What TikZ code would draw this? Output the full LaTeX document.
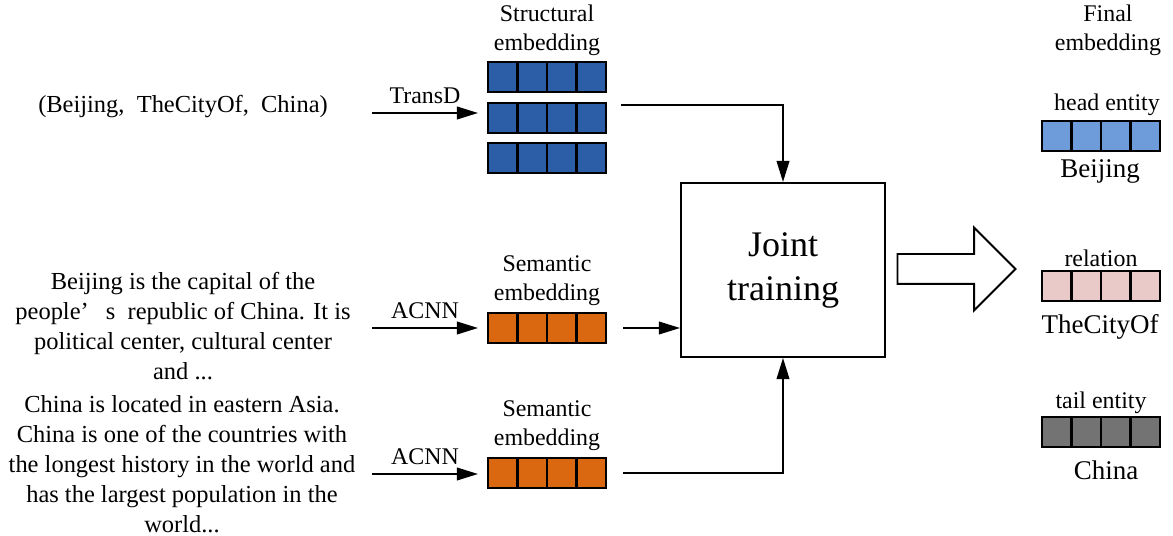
\documentclass[tikz,border=0pt]{standalone}
\usepackage{fontspec}
\setmainfont{Liberation Serif}
\usepackage{tikz}
\usetikzlibrary{arrows.meta,calc,shapes.arrows}

\definecolor{structblue}{RGB}{43,94,167}
\definecolor{semorange}{RGB}{218,104,16}
\definecolor{headblue}{RGB}{110,156,219}
\definecolor{relpink}{RGB}{233,202,201}
\definecolor{tailgray}{RGB}{115,115,115}

\tikzset{
  emb/.style={draw, line width=1.6pt, minimum width=2.95cm, minimum height=0.74cm, inner sep=0pt,
    path picture={\foreach \k in {1,2,3}
      \draw[line width=1.6pt] ($(path picture bounding box.north west)!\k/4!(path picture bounding box.north east)$)
        -- ($(path picture bounding box.south west)!\k/4!(path picture bounding box.south east)$);}},
  link/.style={-{Triangle[length=15pt,width=9pt]}, line width=1.3pt},
  txt/.style={align=center, inner sep=0pt, font=\fontsize{17.4}{21.4}\selectfont},
  lbl/.style={align=center, inner sep=0pt, font=\fontsize{17}{20.6}\selectfont},
  entname/.style={inner sep=0pt, font=\fontsize{19.2}{23}\selectfont}
}

\begin{document}
\begin{tikzpicture}[x=0.025cm, y=-0.025cm]
  \useasboundingbox (0,0) rectangle (1173,536);

  % Input texts
  \node[txt] (triple) at (183,107) {(Beijing,~~TheCityOf,~~China)};
  \node[txt] (desc1) at (183,326) {Beijing is the capital of the\\
    people’\hspace{0.7em}s~~republic of China. It is\\
    political center, cultural center\\
    and ...};
  \node[txt] (desc2) at (182,464) {China is located in eastern Asia.\\
    China is one of the countries with\\
    the longest history in the world and\\
    has the largest population in the\\
    world...};

  % Structural embedding
  \node[lbl] (slbl) at (547,30) {Structural\\embedding};
  \node[emb, fill=structblue] (s1) at (547,77) {};
  \node[emb, fill=structblue] (s2) at (547,118) {};
  \node[emb, fill=structblue] (s3) at (547,158) {};

  % Semantic embeddings
  \node[lbl] (olbl1) at (547,281) {Semantic\\embedding};
  \node[emb, fill=semorange] (o1) at (547,328) {};
  \node[lbl] (olbl2) at (547,426) {Semantic\\embedding};
  \node[emb, fill=semorange] (o2) at (547,473) {};

  % Encoders
  \coordinate (tA) at (372,113);
  \coordinate (tB) at (478,113);
  \draw[link] (tA) -- node[lbl, above=6pt] (transd) {TransD} (tB);
  \coordinate (aA) at (372,328);
  \coordinate (aB) at (478,328);
  \draw[link] (aA) -- node[lbl, above=6pt] (acnn1) {ACNN} (aB);
  \coordinate (bA) at (372,474);
  \coordinate (bB) at (478,474);
  \draw[link] (bA) -- node[lbl, above=6pt] (acnn2) {ACNN} (bB);

  % Joint training
  \node[draw, line width=1.4pt, minimum width=5.1cm, minimum height=4.35cm, align=center,
        font=\fontsize{25.6}{31.3}\selectfont] (joint) at (783,270) {Joint\\training};
  \draw[link] ([xshift=0.35cm, yshift=-0.075cm]s2.north east) -| (joint.north);
  \draw[link] ([xshift=0.4cm]o1.east) -- (o1.east -| joint.west);
  \draw[link] ([xshift=0.4cm]o2.east) -| (joint.south);

  % Output arrow
  \node[single arrow, draw, line width=1.4pt, fill=white, inner xsep=0pt, inner ysep=0.35cm,
        text height=0pt, text depth=0pt, minimum height=2.95cm,
        single arrow tip angle=90, single arrow head extend=0.66cm] (out) at (949,269) {};

  % Final embedding
  \node[lbl] (flbl) at (1108,30) {Final\\embedding};
  \node[lbl] (hlbl) at (1107,105) {head entity};
  \node[emb, fill=headblue] (h) at (1101,136) {};
  \node[entname] (hname) at (1100,171) {Beijing};
  \node[lbl] (rlbl) at (1101,258) {relation};
  \node[emb, fill=relpink] (r) at (1101,286) {};
  \node[entname] (rname) at (1100,327) {TheCityOf};
  \node[lbl] (tlbl) at (1101,403) {tail entity};
  \node[emb, fill=tailgray] (t) at (1101,432) {};
  \node[entname] (tname) at (1106,470) {China};
\end{tikzpicture}
\end{document}
